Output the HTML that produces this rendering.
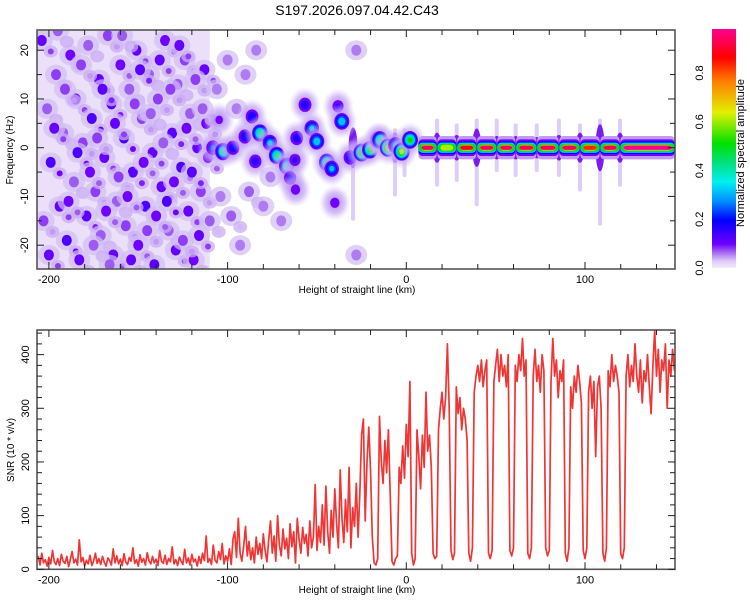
<!DOCTYPE html>
<html><head><meta charset="utf-8"><title>S197.2026.097.04.42.C43</title>
<style>
html,body{margin:0;padding:0;background:#fff;}
svg{display:block;font-family:"Liberation Sans",sans-serif;}
</style></head>
<body>
<svg id="chart" width="750" height="600" viewBox="0 0 750 600" xmlns="http://www.w3.org/2000/svg">
<defs>
<linearGradient id="cbar" x1="0" y1="1" x2="0" y2="0">
<stop offset="0" stop-color="#f3ecfc"/><stop offset="0.03" stop-color="#dcc8f7"/>
<stop offset="0.07" stop-color="#9d5cf0"/><stop offset="0.1" stop-color="#7000ff"/>
<stop offset="0.2" stop-color="#0000ff"/><stop offset="0.28" stop-color="#0090ff"/>
<stop offset="0.36" stop-color="#00f0f0"/><stop offset="0.45" stop-color="#00e070"/>
<stop offset="0.52" stop-color="#00e000"/><stop offset="0.65" stop-color="#e0f000"/>
<stop offset="0.78" stop-color="#ff8000"/><stop offset="0.88" stop-color="#ff0000"/>
<stop offset="1" stop-color="#ff0090"/>
</linearGradient>
<radialGradient id="halo"><stop offset="0" stop-color="#a070f0" stop-opacity="0.9"/><stop offset="0.6" stop-color="#c8aaf5" stop-opacity="0.7"/><stop offset="1" stop-color="#e0d0f8" stop-opacity="0"/></radialGradient>
<clipPath id="clipTop"><rect x="37" y="30" width="638" height="239"/></clipPath>
<clipPath id="clipBot"><rect x="37" y="330" width="638" height="239"/></clipPath>
</defs>
<text x="357" y="15" font-size="14" text-anchor="middle" fill="#000">S197.2026.097.04.42.C43</text>
<g id="spec" clip-path="url(#clipTop)"></g>
<g id="snr" clip-path="url(#clipBot)"></g>
<g id="axes"></g>
<g>
<rect x="712" y="29" width="24" height="239" fill="url(#cbar)"/>
<text transform="translate(744,153) rotate(-90)" font-size="11" text-anchor="middle">Normalized spectral amplitude</text>
</g>
<text x="357" y="293" font-size="10" text-anchor="middle">Height of straight line (km)</text>
<text x="357" y="593" font-size="10" text-anchor="middle">Height of straight line (km)</text>
<text transform="translate(13,150) rotate(-90)" font-size="10" text-anchor="middle">Frequency (Hz)</text>
<text transform="translate(14,450) rotate(-90)" font-size="10" text-anchor="middle">SNR (10 * v/v)</text>
</svg>
<script>
// ---- data ----
const xTicks = [-200,-100,0,100];
const freqTicks = [-20,-10,0,10,20];
const snrTicks = [0,100,200,300,400];
const cbarTicks = [0.0,0.2,0.4,0.6,0.8];
const snrStartKm = -206;
const snrValues = [
25,8,30,12,18,6,22,10,35,14, 9,20,7,28,15,11,24,5,18,33, 12,19,8,55,14,22,6,17,10,26,
7,15,30,11,20,9,24,13,6,21, 16,8,38,12,25,10,19,7,29,14, 9,22,15,40,11,18,6,27,13,20,
8,31,16,10,24,12,19,7,35,15, 11,26,9,20,14,42,10,18,7,23, 15,9,37,12,21,8,28,14,19,6,
24,11,30,16,62,13,20,9,45,17, 12,33,18,48,10,25,15,38,9,56, 70,22,95,30,15,44,80,25,52,18,
40,12,60,28,48,20,66,35,14,55, 90,30,62,15,100,45,25,75,38,58, 20,85,42,70,12,95,55,30,78,48,
65,25,90,40,60,158,35,80,50,120, 45,155,70,30,110,60,150,85,40,185, 95,50,130,70,190,40,115,80,160,60,
140,250,280,90,200,265,180,60,12,8, 20,285,200,160,240,180,260,140,15,8,
20,25,190,160,230,170,270,210,350,30, 8,20,260,210,150,250,190,330,220,250,
190,30,20,25,260,300,330,280,320,420, 300,35,18,30,340,290,320,260,300,280,
240,30,15,40,330,360,380,350,390,340, 370,390,30,20,35,350,380,410,350,400,
360,380,340,400,35,25,40,380,350,400, 370,430,360,390,30,20,40,360,410,350,
380,330,400,370,40,25,35,350,430,360, 390,320,370,350,390,30,15,40,340,300,
360,330,380,350,310,35,20,40,330,360, 300,350,210,340,360,300,30,15,40,370,
340,400,350,380,360,330,30,20,40,360, 400,340,380,350,420,360,330,390,310,370,
350,400,340,290,380,445,360,410,330,390, 370,420,300,390,360,410,370];
const noiseX = [-204,-201,-199,-196,-194,-192,-190,-188,-186,-185,-183,-181,-179,-178,-176,-174,-172,-171,-169,-167,-165,-164,-162,-160,-158,-157,-155,-153,-151,-150,-148,-146,-144,-142,-141,-139,-137,-135,-133,-131,-129,-128,-126,-124,-122,-121,-119,-117,-115,-113,-112,-110,-203,-200,-197,-195,-191,-189,-184,-182,-177,-175,-173,-170,-168,-166,-163,-161,-159,-156,-154,-152,-149,-147,-145,-143,-140,-138,-136,-134,-132,-130,-127,-125,-123,-120,-118,-116,-114,-111,-106,-104,-100,-98,-95,-93,-90,-88,-84,-80,-76,-70,-28,-28];
const noiseF = [22,8,-3,15,-12,3,-19,19,-7,10,-23,1,-14,21,6,-9,14,-18,-2,23,9,-22,-11,17,2,-16,12,-5,20,-20,6,-12,15,-1,-24,10,-8,22,-17,3,-21,13,-4,18,-13,7,-23,0,-9,16,5,-15,-15,-22,4,24,12,-11,-1,17,-5,-20,2,12,-13,-24,5,-6,23,-10,-23,9,16,-3,-17,7,-14,18,1,-11,12,-7,21,-19,4,-5,14,-18,8,-2,12,-10,18,-14,8,-20,15,-9,20,-12,-6,-15,-22,20];
const noiseA = [.1,.06,.12,.07,.1,.06,.12,.09,.06,.1,.1,.07,.11,.06,.12,.07,.1,.06,.1,.07,.11,.1,.06,.09,.12,.07,.06,.11,.1,.09,.07,.12,.06,.1,.11,.07,.1,.09,.06,.11,.1,.06,.12,.07,.1,.06,.09,.1,.07,.1,.09,.06,.07,.1,.1,.06,.07,.09,.12,.07,.09,.06,.07,.11,.09,.06,.1,.07,.06,.09,.1,.07,.11,.09,.07,.06,.09,.1,.06,.12,.07,.09,.1,.07,.09,.11,.07,.1,.06,.09,.05,.05,.05,.06,.05,.05,.05,.06,.05,.05,.05,.05,.05,.05];
const featX = [-108.2,-102.6,-97,-104.7,-90.3,-86.3,-84.5,-81.9,-76.3,-72.5,-66.9,-65,-62.3,-61.3,-62,-56.7,-52.9,-50.1,-44.5,-41.7,-40,-38.2,-36.1,-31.5,-25,-20.3,-15.8,-14.7,-10.2,-6,-2.6,2.1];
const featF = [0,-0.8,0,5.7,2.3,6.4,-2.8,3,1,-1.6,-3.8,-6.2,-2.5,2,-8.6,8.8,4,1.3,-3,-4.3,-11.3,8.5,5.4,-2,-1,-0.4,1.6,1.6,0,0.5,-0.8,1.6];
const featA = [.22,.42,.2,.1,.2,.2,.18,.45,.3,.45,.4,.18,.15,.2,.12,.2,.3,.35,.45,.3,.12,.15,.35,.2,.55,.5,.5,.45,.65,.3,.6,.5];
const spikeKm = [17.2,28.2,39.4,50.6,61.2,73,85.4,97.2,108.4,119.6];
const spikeUp = [6,5,6,6,5,5,6,5,6,6];
const spikeDown = [-8,-7,-12,-5,-6,-5,-6,-9,-16,-8];
const preSpikeKm = [-29.8,-6.3,-1];
const preSpikeDown = [-15,-10,-6];
const bandStartKm = 6.5, bandEndKm = 150.5;
const segAmp = [0.95,0.62,0.9,0.95,0.95,0.95,0.95,0.95,0.85,0.95,1.0];

// ---- scales ----
const X = km => 406.3 + km*1.787;
const YF = f => 147.7 - f*4.875;
const YS = s => 569.3 - s*0.5367;
const NS = 'http://www.w3.org/2000/svg';
function el(tag, attrs, parent){ const e=document.createElementNS(NS,tag); for(const k in attrs) e.setAttribute(k,attrs[k]); parent.appendChild(e); return e; }
const stops=[[0,'#ffffff'],[0.03,'#e6d8fa'],[0.07,'#9d5cf0'],[0.1,'#7000ff'],[0.2,'#0000ff'],[0.28,'#0090ff'],[0.36,'#00f0f0'],[0.45,'#00e070'],[0.52,'#00e000'],[0.65,'#e0f000'],[0.78,'#ff8000'],[0.88,'#ff0000'],[1,'#ff0090']];
function cmap(v){ v=Math.max(0,Math.min(1,v)); for(let i=1;i<stops.length;i++){ if(v<=stops[i][0]){ const [a,ca]=stops[i-1],[b,cb]=stops[i]; const t=(v-a)/(b-a); const p=h=>[1,3,5].map(j=>parseInt(h.substr(j,2),16)); const A=p(ca),B=p(cb); return 'rgb('+A.map((x,k)=>Math.round(x+(B[k]-x)*t)).join(',')+')'; } } return stops[stops.length-1][1]; }

const spec=document.getElementById('spec');
const bg=el('rect',{x:X(-207),y:30,width:X(-110)-X(-207),height:239,fill:'#ebdff9'},spec);


for(let i=0;i<noiseX.length;i++){
  const cx=X(noiseX[i]), cy=YF(noiseF[i]), a=noiseA[i];
  const g=el('g',{},spec);
  
  
  el('ellipse',{cx:cx,cy:cy,rx:11,ry:10,fill:'#d2bcf5',opacity:0.7},g);
  el('ellipse',{cx:cx,cy:cy,rx:5,ry:5.5,fill:cmap(a+0.01)},g);
  if(a>0.055){
    el('ellipse',{cx:cx+9,cy:cy+11,rx:7,ry:6,fill:'#c9acf3',opacity:0.75},g);
    el('ellipse',{cx:cx+9,cy:cy+11,rx:3,ry:3,fill:cmap(a-0.02)},g);
  }
}
function spike(km,up,down,name){
  const g=el('g',{},spec);
  
  
  el('rect',{x:X(km)-2,y:YF(up),width:4,height:YF(down)-YF(up),rx:2,fill:'#d8c4f7',opacity:0.85},g);
  el('ellipse',{cx:X(km),cy:YF(0),rx:4.5,ry:(YF(down)-YF(up))*0.22,fill:'#7a1cf0'},g);
}
for(let i=0;i<spikeKm.length;i++) spike(spikeKm[i],spikeUp[i],spikeDown[i],'spectral-spike');
for(let i=0;i<preSpikeKm.length;i++) spike(preSpikeKm[i],4,preSpikeDown[i],'spectral-spike');
const levels=[0.08,0.15,0.22,0.3,0.4,0.5,0.6,0.75,0.88];
for(let i=0;i<featX.length;i++){
  const cx=X(featX[i]), cy=YF(featF[i]), a=featA[i];
  const g=el('g',{},spec);
  
  
  el('ellipse',{cx:cx,cy:cy,rx:16,ry:18,fill:'url(#halo)'},g);
  for(const l of levels){ if(l>a) break; const k=1-0.72*(l/a); el('ellipse',{cx:cx,cy:cy,rx:9*k,ry:10*k,fill:cmap(l+0.02)},g); }
}
const bounds=[bandStartKm,...spikeKm,bandEndKm];
for(let i=0;i<bounds.length-1;i++){
  const x0=X(bounds[i])+0.5, x1=X(bounds[i+1])-0.5, a=segAmp[i];
  const g=el('g',{},spec);
  
  
  const lay=[[2.4,0.05],[1.7,0.1],[1.3,0.2],[1.05,0.33],[0.8,0.5]];
  for(const [h,l] of lay){ el('rect',{x:x0,y:YF(h),width:x1-x0,height:YF(-h)-YF(h),rx:4,fill:cmap(l)},g); }
  const inner=[[0.6,Math.min(a,0.68)],[0.45,a]];
  for(const [h,l] of inner){ el('rect',{x:x0+3,y:YF(h),width:Math.max(2,x1-x0-6),height:YF(-h)-YF(h),rx:3,fill:cmap(l)},g); }
}

const snr=document.getElementById('snr');
const pts=snrValues.map((v,i)=>X(snrStartKm+i).toFixed(1)+','+YS(v).toFixed(1)).join(' ');
const line=el('polyline',{points:pts,fill:'none',stroke:'#f03535','stroke-width':1.7,'stroke-linejoin':'round'},snr);



const ax=document.getElementById('axes');
function frame(y0,y1,name){
  const r=el('rect',{x:37,y:y0,width:638,height:y1-y0,fill:'none',stroke:'#555','stroke-width':1.6},ax);
  
  
  for(let km=-200;km<=140;km+=20){
    const len=(km%100===0)?7:5;
    el('line',{x1:X(km),y1:y1,x2:X(km),y2:y1-len,stroke:'#222'},ax);
    el('line',{x1:X(km),y1:y0,x2:X(km),y2:y0+len,stroke:'#222'},ax);
  }
  for(const t of xTicks){
    const tx=el('text',{x:X(t),y:y1+14,'font-size':11,'text-anchor':'middle'},ax);
    tx.textContent=t;
    
    
  }
}
frame(30,269,'spectrogram-frame');
frame(330,569.3,'snr-frame');
for(let f=-20;f<=20;f+=5){ const len=(f%10===0)?7:5; el('line',{x1:37,y1:YF(f),x2:37+len,y2:YF(f),stroke:'#222'},ax); el('line',{x1:675,y1:YF(f),x2:675-len,y2:YF(f),stroke:'#222'},ax); }
for(const t of freqTicks){ const tx=el('text',{transform:'translate(28,'+YF(t)+') rotate(-90)','font-size':11,'text-anchor':'middle'},ax); tx.textContent=t;
  
   }
for(let s=0;s<=440;s+=20){ const len=(s%100===0)?7:5; el('line',{x1:37,y1:YS(s),x2:37+len,y2:YS(s),stroke:'#222'},ax); el('line',{x1:675,y1:YS(s),x2:675-len,y2:YS(s),stroke:'#222'},ax); }
for(const t of snrTicks){ const tx=el('text',{transform:'translate(29,'+YS(t)+') rotate(-90)','font-size':11,'text-anchor':'middle'},ax); tx.textContent=t;
  
   }
for(const t of cbarTicks){ const y=268-t*243.75; const tx=el('text',{transform:'translate(703,'+y+') rotate(-90)','font-size':11,'text-anchor':'middle'},ax); tx.textContent=t.toFixed(1);
  
   }
</script>
</body></html>
